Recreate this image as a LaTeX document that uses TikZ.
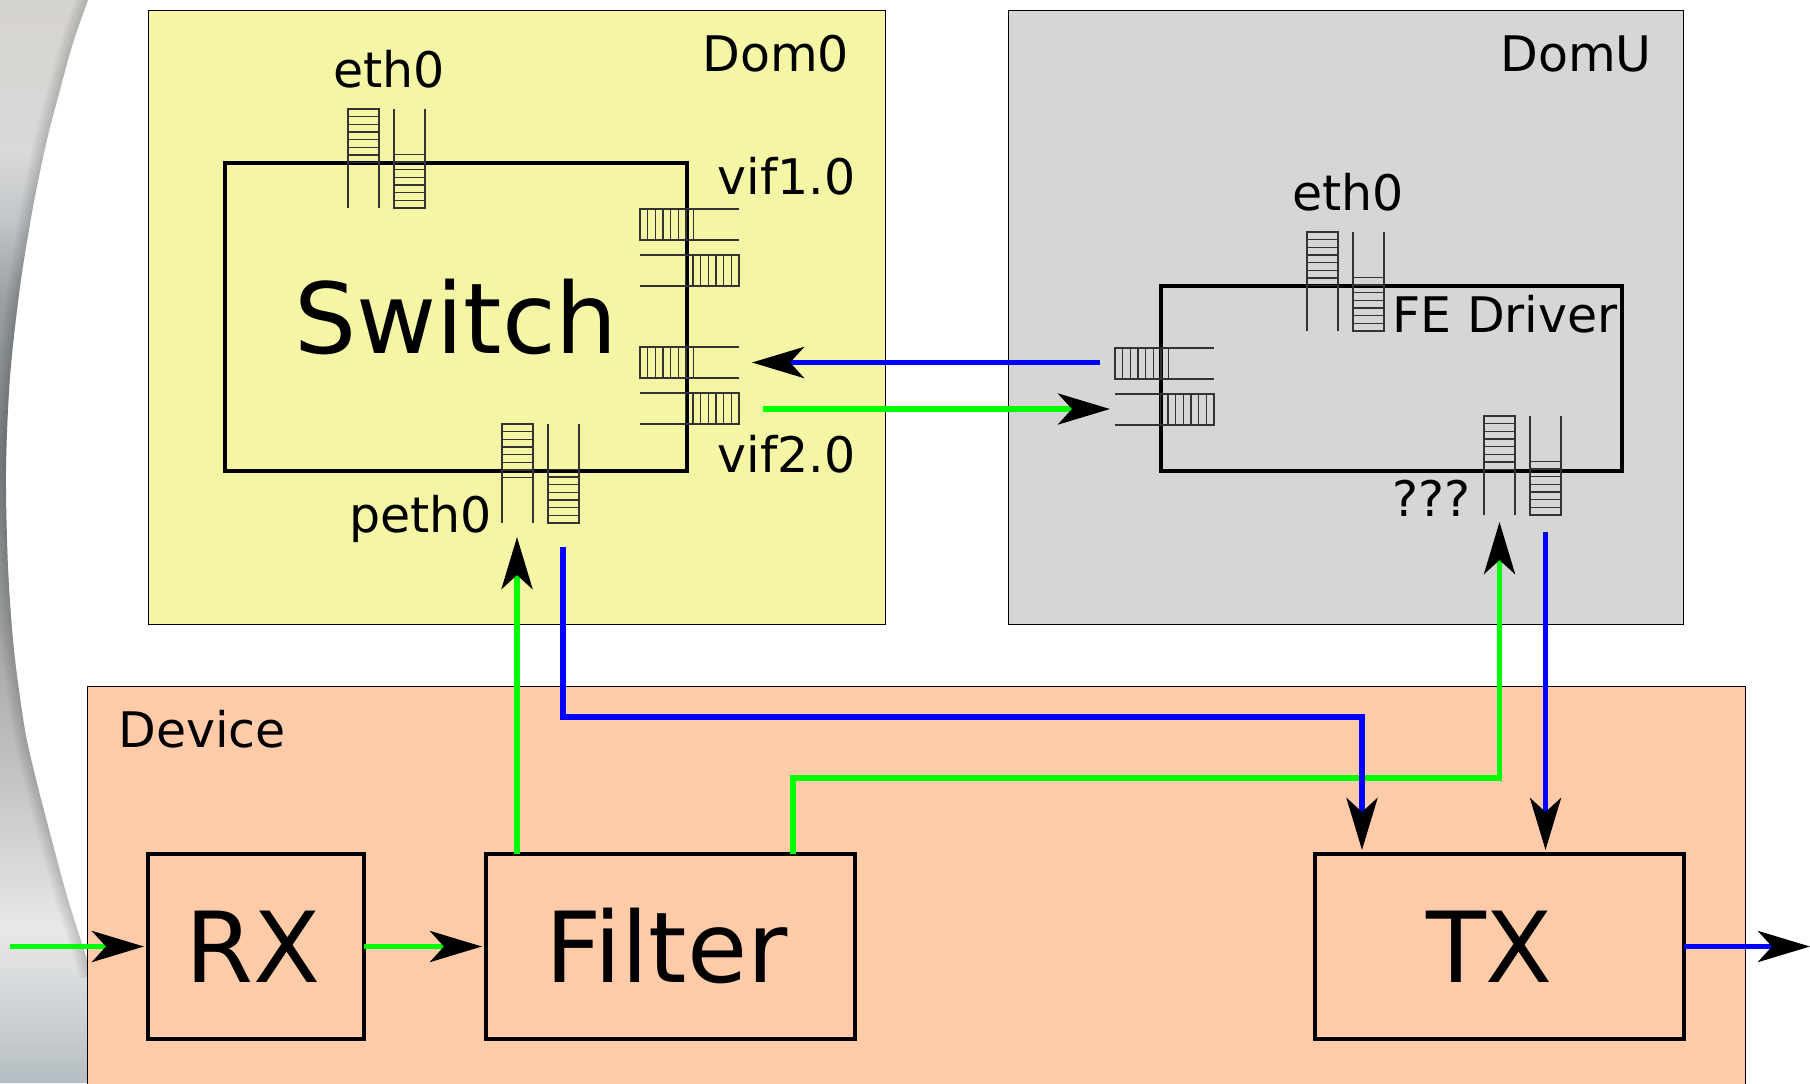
\documentclass[tikz,border=0pt]{standalone}
\usepackage{fontspec}
\setmainfont{DejaVu Sans}
\usetikzlibrary{arrows.meta}
\definecolor{domzero}{HTML}{F5F5A6}
\definecolor{domuser}{HTML}{D6D6D6}
\definecolor{devicefill}{HTML}{FFCBA8}
\pgfdeclareverticalshading{swoosh}{100bp}{
  rgb(0bp)=(0.71,0.74,0.76);
  rgb(25bp)=(0.71,0.74,0.76);
  rgb(28bp)=(0.80,0.82,0.83);
  rgb(32bp)=(0.91,0.91,0.91);
  rgb(39bp)=(0.77,0.77,0.77);
  rgb(47bp)=(0.62,0.63,0.63);
  rgb(54bp)=(0.50,0.53,0.54);
  rgb(61bp)=(0.60,0.62,0.63);
  rgb(65bp)=(0.76,0.78,0.79);
  rgb(68bp)=(0.85,0.85,0.85);
  rgb(75bp)=(0.84,0.83,0.81);
  rgb(100bp)=(0.84,0.83,0.81)}
\tikzset{
  panelbox/.style={draw, line width=0.5pt, anchor=north west, inner sep=0pt},
  blockbox/.style={font=\fontsize{49}{56}\selectfont, inner sep=0pt, outer sep=0pt, text height=36pt, text depth=0pt},
  blockline/.style={line width=1.8pt},
  smalltext/.style={anchor=base west, inner sep=0pt, font=\fontsize{24.5}{28}\selectfont},
  ring/.style={line width=0.6pt, black!80},
  flow/.style={line width=2.8pt, -{Stealth[length=26pt, width=15.5pt, inset=7pt, color=black]}},
  toblock/.style={flow, shorten >=2pt},
}
% queue pair running up and down, #1 = left x, #2 = top y
\newcommand{\vertrings}[2]{
  \draw[ring] (#1,#2+99) -- (#1,#2) -- (#1+31,#2) -- (#1+31,#2+99);
  \draw[ring] (#1+46,#2) -- (#1+46,#2+99) -- (#1+77,#2+99) -- (#1+77,#2);
  \foreach \i in {1,...,7} {
    \draw[ring] (#1,#2+\i*7.67) -- (#1+31,#2+\i*7.67);
    \draw[ring] (#1+46,#2+99-\i*7.67) -- (#1+77,#2+99-\i*7.67);
  }
}
% queue pair running left and right, #1 = left x, #2 = top y
\newcommand{\horizrings}[2]{
  \draw[ring] (#1+99,#2) -- (#1,#2) -- (#1,#2+31) -- (#1+99,#2+31);
  \draw[ring] (#1,#2+46) -- (#1+99,#2+46) -- (#1+99,#2+77) -- (#1,#2+77);
  \foreach \i in {1,...,7} {
    \draw[ring] (#1+\i*7.67,#2) -- (#1+\i*7.67,#2+31);
    \draw[ring] (#1+99-\i*7.67,#2+46) -- (#1+99-\i*7.67,#2+77);
  }
}
\newcommand{\swooshedge}{plot[smooth] coordinates {(88,0) (73,43) (60,90) (47,140) (33,207) (20,287) (10,377) (6,470) (8,567) (14,650) (25,730) (37,783) (50,833) (67,896) (85,953) (92,975)}}
\begin{document}
\begin{tikzpicture}[x=0.5pt, y=-0.5pt]
\path[use as bounding box, clip] (0,0) rectangle (1810,1083);
% backdrop at the left edge
\shade[shading=swoosh] \swooshedge -- (92,1083) -- (0,1083) -- (0,0) -- cycle;
\begin{scope}
\clip \swooshedge -- (92,1083) -- (0,1083) -- (0,0) -- cycle;
\foreach \w in {3,6,9,12} {
  \draw[black, opacity=0.04, line width=\w pt] \swooshedge;
}
\end{scope}
% domains
\node[panelbox, fill=domzero, minimum width=368.5pt, minimum height=307pt] (dom0) at (147.5,9.5) {};
\node[panelbox, fill=domuser, minimum width=337.5pt, minimum height=307pt] (domu) at (1007.5,9.5) {};
\node[panelbox, fill=devicefill, minimum width=829pt, minimum height=215pt] (device) at (86.5,685.5) {};
\node[smalltext] (dom0label) at (702,71) {Dom0};
\node[smalltext] (domulabel) at (1500,71) {DomU};
\node[smalltext] (devicelabel) at (118,747) {Device};
% blocks
\node[blockbox, minimum width=231pt, minimum height=154pt] (switch) at (456,317) {Switch};
\node[blockbox, minimum width=230.5pt, minimum height=92.5pt] (fedriver) at (1391.5,378.5) {};
\node[blockbox, minimum width=108pt, minimum height=92.5pt] (rx) at (256,946.5) {RX\kern3pt};
\node[blockbox, minimum width=184.5pt, minimum height=92.5pt] (filter) at (670.5,946.5) {Filter\kern4pt};
\node[blockbox, minimum width=184.5pt, minimum height=92.5pt] (tx) at (1499.5,946.5) {TX\kern10pt};
\foreach \n in {switch,fedriver,rx,filter,tx} {
  \draw[blockline] (\n.south west) rectangle (\n.north east);
}
% rings
\vertrings{348}{109}
\vertrings{502}{424}
\vertrings{1307}{232}
\vertrings{1484}{416}
\horizrings{640}{209}
\horizrings{640}{347}
\horizrings{1115}{348}
% labels
\node[smalltext, anchor=base] (etha) at (389,87) {eth0};
\node[smalltext] (vifa) at (717,194) {vif1.0};
\node[smalltext] (vifb) at (717,472) {vif2.0};
\node[smalltext] (peth) at (349,532) {peth0};
\node[smalltext, anchor=base] (ethb) at (1348,210) {eth0};
\node[smalltext] (felabel) at (1392,332) {FE Driver};
\node[smalltext] (unknown) at (1392,516) {???};
% free ends
\coordinate (pethin) at (517,537);
\coordinate (pethout) at (563,547);
\coordinate (unkin) at (1499.5,522);
\coordinate (unkout) at (1545.5,532);
\coordinate (vifin) at (752,362.5);
\coordinate (vifout) at (763,409);
\coordinate (fein) at (1110,409);
\coordinate (feout) at (1100,362.5);
\coordinate (wirein) at (10,946.5);
\coordinate (wireout) at (1810,946.5);
\coordinate (filtertap) at (793,778);
\coordinate (txbend) at (1362,717);
% flows
\draw[toblock, green] (wirein) -- (rx.west);
\draw[toblock, green] (rx.east) -- (filter.west);
\draw[flow, blue] (tx.east) -- (wireout);
\draw[flow, blue] (feout) -- (vifin);
\draw[flow, green] (vifout) -- (fein);
\draw[flow, green] (filter.north -| pethin) -- (pethin);
\draw[flow, green] (filter.north -| filtertap) -- (filtertap) -| (unkin);
\draw[toblock, blue] (pethout) |- (txbend) -- (tx.north -| txbend);
\draw[toblock, blue] (unkout) -- (tx.north -| unkout);
\end{tikzpicture}
\end{document}
